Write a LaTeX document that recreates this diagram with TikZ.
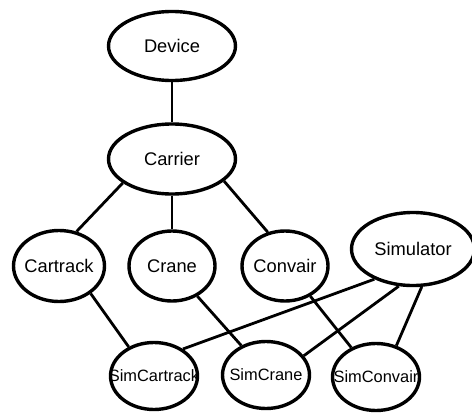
\documentclass[tikz,border=0pt]{standalone}
\usepackage{fontspec}
\setmainfont{Liberation Sans}
\usetikzlibrary{shapes.geometric}
\tikzset{
  cls/.style={ellipse, draw, line width=3.4pt, inner sep=0pt,
    font=\fontsize{18.3}{20}\selectfont},
  simcls/.style={cls, minimum width=87pt, minimum height=67pt,
    font=\fontsize{16.4}{18}\selectfont},
  link/.style={line width=2.8pt},
}
\newcommand{\lbl}[1]{\makebox[0pt]{#1}}
\begin{document}
\begin{tikzpicture}[x=1pt, y=-1pt]
  \useasboundingbox (0,0) rectangle (472,413);

  % class hierarchy
  \node[cls, minimum width=127pt, minimum height=69pt] (device)   at (172,46)  {\lbl{Device}};
  \node[cls, minimum width=127pt, minimum height=70pt] (carrier)  at (172,159) {\lbl{Carrier}};
  \node[cls, minimum width=91pt,  minimum height=71pt] (cartrack) at (59,266)  {\lbl{Cartrack}};
  \node[cls, minimum width=86pt,  minimum height=70pt] (crane)    at (172,266) {\lbl{Crane}};
  \node[cls, minimum width=86pt,  minimum height=70pt] (convair)  at (285,266) {\lbl{Convair}};
  \node[cls, minimum width=123pt, minimum height=73pt] (sim)      at (413,249) {\lbl{Simulator}};

  % simulated classes
  \node[simcls] (simcartrack) at (154,376) {\lbl{SimCartrack}};
  \node[simcls] (simcrane)    at (266,375) {\lbl{SimCrane}};
  \node[simcls] (simconvair)  at (376,377) {\lbl{SimConvair}};

  % inheritance links
  \draw[link] (device.270)   -- (carrier.90);
  \draw[link] (carrier.206)  -- (cartrack.63);
  \draw[link] (carrier.270)  -- (crane.90);
  \draw[link] (carrier.337)  -- (convair.117);
  \draw[link] (cartrack.319) -- (simcartrack.131);
  \draw[link] (crane.310)    -- (simcrane.130);
  \draw[link] (convair.310)  -- (simconvair.130);
  \draw[link] (sim.218)      -- (simcartrack.43);
  \draw[link] (sim.249)      -- (simcrane.27);
  \draw[link] (sim.283)      -- (simconvair.57);
\end{tikzpicture}
\end{document}
